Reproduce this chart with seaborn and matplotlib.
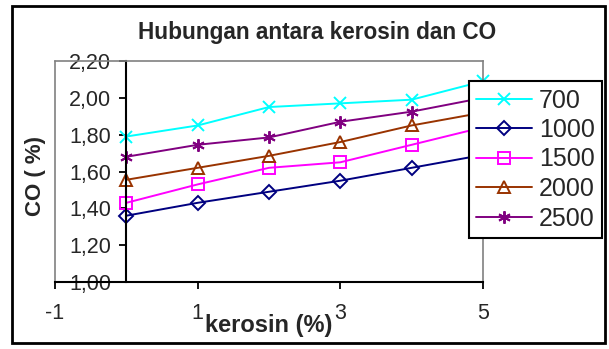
import seaborn as sns
import matplotlib.pyplot as plt
from matplotlib.patches import Rectangle
from matplotlib.ticker import FuncFormatter

kerosin = [0, 1, 2, 3, 4, 5]
series_names = ["700", "1000", "1500", "2000", "2500"]
co_700 = [1.79, 1.85, 1.95, 1.97, 1.99, 2.09]
co_1000 = [1.36, 1.43, 1.49, 1.55, 1.62, 1.69]
co_1500 = [1.43, 1.53, 1.62, 1.65, 1.745, 1.84]
co_2000 = [1.555, 1.62, 1.685, 1.76, 1.85, 1.92]
co_2500 = [1.68, 1.745, 1.785, 1.87, 1.925, 2.00]
x_ticks = [-1, 1, 3, 5]
y_ticks = [1.0, 1.2, 1.4, 1.6, 1.8, 2.0, 2.2]

sns.set_style("white")
plt.rcParams["font.family"] = ["Liberation Sans", "DejaVu Sans"]
plt.rcParams["axes.unicode_minus"] = False

colors = ["#00FFFF", "#000080", "#FF00FF", "#993300", "#800080"]
markers = ["x", "D", "s", "^", (6, 2, 0)]
sizes = [8, 7, 8, 9, 9]

fig = plt.figure(figsize=(6.09, 3.49), dpi=100)
ax = fig.add_axes([55/609, 1-282/349, 428/609, 221/349])

all_vals = [co_700, co_1000, co_1500, co_2000, co_2500]
for name, vals, c, m, s in zip(series_names, all_vals, colors, markers, sizes):
    sns.lineplot(x=kerosin, y=vals, color=c, marker=m, ms=s, mfc="none",
                 mec=c, mew=1.4, lw=1.4, label=name, ax=ax, clip_on=False)

ax.set_xlim(-1, 5)
ax.set_ylim(1.0, 2.2)
ax.set_xticks(x_ticks)
ax.set_yticks(y_ticks)
ax.yaxis.set_major_formatter(FuncFormatter(lambda v, p: f"{v:.2f}".replace(".", ",")))

# axes styling like the old excel chart
ax.spines["left"].set_position(("data", 0))
for s in ["left", "bottom"]:
    ax.spines[s].set_color("black")
    ax.spines[s].set_linewidth(1.5)
for s in ["top", "right"]:
    ax.spines[s].set_color("#808080")
    ax.spines[s].set_linewidth(1.2)
ax.axvline(-1, color="#808080", lw=1.2, clip_on=False)
ax.tick_params(axis="both", direction="out", length=5, width=1.3, labelsize=15.5,
               color="black")
ax.tick_params(axis="x", pad=10, bottom=True)
ax.tick_params(axis="y", pad=6, left=True)

ax.set_xlabel("kerosin (%)", fontsize=17, fontweight="bold")
ax.xaxis.label.set_va("center")
ax.xaxis.set_label_coords(0.5, -0.195)
ax.set_ylabel("CO ( %)", fontsize=16, fontweight="bold")
ax.yaxis.label.set_va("center")
ax.yaxis.set_label_coords(-20/428, 0.48)

fig.text(317/609, 1-33/349, "Hubungan antara kerosin dan CO", ha="center",
         va="center", fontsize=16.3, fontweight="bold")

handles, labels = ax.get_legend_handles_labels()
ax.get_legend().remove()
leg = fig.legend(handles, labels, loc="upper left", bbox_to_anchor=(469/609, 1-81/349),
                 fontsize=18, frameon=True, fancybox=False, framealpha=1,
                 edgecolor="black", handlelength=2.2, handletextpad=0.3,
                 labelspacing=0.22, borderpad=0.3, borderaxespad=0)
leg.get_frame().set_linewidth(1.5)

fig.patches.append(Rectangle((12/609, 6/349), 593/609, 337/349, transform=fig.transFigure,
                             fill=False, edgecolor="black", lw=2))

fig.savefig("out.png", dpi=100)
